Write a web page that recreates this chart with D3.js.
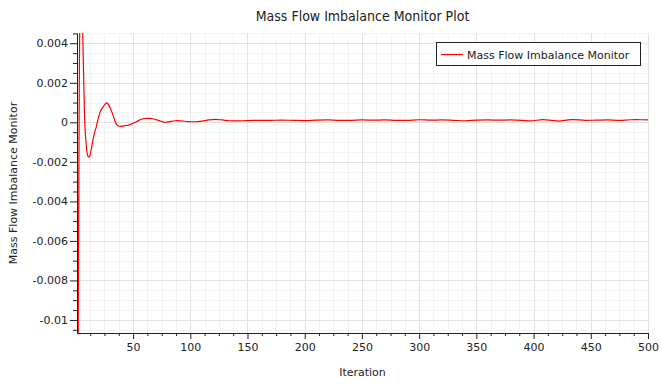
<!DOCTYPE html>
<html>
<head>
<meta charset="utf-8">
<script src="https://cdn.jsdelivr.net/npm/d3@7"></script>
<style>
  body { margin: 0; background: #fff; }
  svg { display: block; }
  text { font-family: "DejaVu Sans", sans-serif; fill: #222; }
</style>
</head>
<body>
<svg class="figure" width="662" height="384"></svg>
<script>
// monitor samples (iteration, imbalance)
var iterations = [1, 2, 3, 4, 5, 6, 7, 8, 9, 10, 11, 12, 13, 14, 16, 18, 20, 22, 24, 26, 27, 28, 30, 32, 34, 36, 38, 40, 43, 46, 49, 52, 55, 58, 62, 65, 68, 72, 76, 78, 82, 87, 92, 98, 104, 110, 116, 122, 128, 134,
  140, 150, 160, 170, 180, 190, 200, 210, 220, 230, 240, 250, 260, 270, 280, 290, 300, 310, 320, 330, 340, 350, 360, 370, 380, 390, 398, 408, 416, 422, 433, 445, 455, 465, 475, 485, 495, 500];
var imbalance = [-0.03, -0.012, 0.002, 0.0058, 0.0062, 0.0045, 0.0018, -0.0003, -0.0011, -0.0016, -0.00175, -0.00172, -0.0015, -0.0012, -0.0006, -0.0002, 0.0003, 0.00062, 0.0008, 0.00095, 0.00098, 0.00094, 0.00072, 0.00044, 0.0001, -0.00014, -0.0002, -0.0002, -0.00017, -0.00014, -0.00008, 0, 0.0001, 0.00017, 0.0002, 0.0002, 0.00017, 0.0001, 0.00002, 0, 0.00004, 0.00008, 0.00007, 0.00004, 0.00003, 0.00006, 0.00012, 0.00015, 0.00012, 0.00008,
  0.00007, 0.00009, 0.0001, 0.0001, 0.00011, 0.0001, 0.00009, 0.00011, 0.00012, 0.0001, 0.0001, 0.00012, 0.00011, 0.00012, 0.0001, 0.0001, 0.00013, 0.00011, 0.00012, 0.0001, 0.00008, 0.00011, 0.00012, 0.00011, 0.00012, 0.0001, 0.00007, 0.00014, 0.0001, 0.00006, 0.00014, 0.0001, 0.00011, 0.00012, 0.0001, 0.00013, 0.00013, 0.00012];

var xTicks = [50, 100, 150, 200, 250, 300, 350, 400, 450, 500];
var yTicks = [0.004, 0.002, 0, -0.002, -0.004, -0.006, -0.008, -0.01];
var yTickLabels = ["0.004", "0.002", "0", "-0.002", "-0.004", "-0.006", "-0.008", "-0.01"];

var svg = d3.select("svg.figure");
var plotLeft = 77, plotRight = 648, plotTop = 33, plotBottom = 333;

var x = d3.scaleLinear().domain([1, 500]).range([plotLeft, plotRight]);
var y = d3.scaleLinear().domain([-0.01066, 0.00452]).range([plotBottom, plotTop]);

var xMinor = d3.range(12.5, 500, 12.5).filter(function(d) { return d % 50 !== 0; });
var yMinor = d3.range(-21, 10).map(function(i) { return i * 0.0005; })
  .filter(function(d) { return Math.abs(Math.round(d * 1e4)) % 20 !== 0; });

// grid
var grid = svg.append("g");
grid.selectAll("line.vminor").data(xMinor).enter().append("line")
  .attr("x1", function(d) { return Math.round(x(d)) + 0.5; })
  .attr("x2", function(d) { return Math.round(x(d)) + 0.5; })
  .attr("y1", plotTop).attr("y2", plotBottom)
  .attr("stroke", "#f3f3f3");
grid.selectAll("line.hminor").data(yMinor).enter().append("line")
  .attr("y1", function(d) { return Math.round(y(d)) + 0.5; })
  .attr("y2", function(d) { return Math.round(y(d)) + 0.5; })
  .attr("x1", plotLeft).attr("x2", plotRight)
  .attr("stroke", "#f3f3f3");
grid.selectAll("line.vmajor").data(xTicks).enter().append("line")
  .attr("x1", function(d) { return Math.round(x(d)) + 0.5; })
  .attr("x2", function(d) { return Math.round(x(d)) + 0.5; })
  .attr("y1", plotTop).attr("y2", plotBottom)
  .attr("stroke", "#e3e3e3");
grid.selectAll("line.hmajor").data(yTicks).enter().append("line")
  .attr("y1", function(d) { return Math.round(y(d)) + 0.5; })
  .attr("y2", function(d) { return Math.round(y(d)) + 0.5; })
  .attr("x1", plotLeft).attr("x2", plotRight)
  .attr("stroke", "#e3e3e3");

// series
svg.append("clipPath").attr("id", "plot-clip")
  .append("rect").attr("x", plotLeft).attr("y", plotTop)
  .attr("width", plotRight - plotLeft).attr("height", plotBottom - plotTop);

var line = d3.line()
  .x(function(d, i) { return x(iterations[i]); })
  .y(function(d) { return y(d); })
  .curve(d3.curveCatmullRom.alpha(0.5));

svg.append("path")
  .datum(imbalance)
  .attr("clip-path", "url(#plot-clip)")
  .attr("d", line)
  .attr("fill", "none")
  .attr("stroke", "#ff0000")
  .attr("stroke-width", 1.2);

// axes
var yAxisMinor = svg.append("g").attr("transform", "translate(" + plotLeft + ",0)")
  .call(d3.axisLeft(y).tickValues(yMinor).tickSize(4).tickSizeOuter(0).tickFormat(""));
yAxisMinor.select(".domain").remove();

var yAxis = svg.append("g").attr("transform", "translate(" + plotLeft + ",0)")
  .call(d3.axisLeft(y).tickValues(yTicks).tickSize(7).tickSizeOuter(0).tickPadding(2)
    .tickFormat(function(d, i) { return yTickLabels[i]; }));

var xAxisMinor = svg.append("g").attr("transform", "translate(0," + plotBottom + ")")
  .call(d3.axisBottom(x).tickValues(xMinor).tickSize(3).tickSizeOuter(0).tickFormat(""));
xAxisMinor.select(".domain").remove();

var xAxis = svg.append("g").attr("transform", "translate(0," + plotBottom + ")")
  .call(d3.axisBottom(x).tickValues(xTicks).tickSize(6).tickSizeOuter(0).tickPadding(4));

svg.selectAll(".tick line").attr("stroke", "#222");
svg.selectAll(".domain").attr("stroke", "#222");
svg.selectAll(".tick text")
  .attr("font-family", "DejaVu Sans, sans-serif")
  .attr("font-size", 11)
  .attr("fill", "#222");

// titles
svg.append("text")
  .attr("x", (plotLeft + plotRight) / 2)
  .attr("y", 21)
  .attr("text-anchor", "middle")
  .style("font-family", "'Liberation Sans Narrow', 'DejaVu Sans Condensed', sans-serif")
  .style("font-stretch", "condensed")
  .style("font-size", "14px")
  .text("Mass Flow Imbalance Monitor Plot");

svg.append("text")
  .attr("x", (plotLeft + plotRight) / 2)
  .attr("y", 376)
  .attr("text-anchor", "middle")
  .style("font-size", "11px")
  .text("Iteration");

svg.append("text")
  .attr("transform", "translate(17," + ((plotTop + plotBottom) / 2) + ") rotate(-90)")
  .attr("text-anchor", "middle")
  .style("font-size", "11px")
  .text("Mass Flow Imbalance Monitor");

// legend
var legend = svg.append("g");
legend.append("rect")
  .attr("x", 436.5).attr("y", 42.5)
  .attr("width", 204).attr("height", 23)
  .attr("fill", "#fff")
  .attr("stroke", "#222");
legend.append("line")
  .attr("x1", 441).attr("x2", 463)
  .attr("y1", 54.5).attr("y2", 54.5)
  .attr("stroke", "#ff0000")
  .attr("stroke-width", 1.2);
legend.append("text")
  .attr("x", 467).attr("y", 58.5)
  .style("font-size", "11px")
  .text("Mass Flow Imbalance Monitor");
</script>
</body>
</html>
